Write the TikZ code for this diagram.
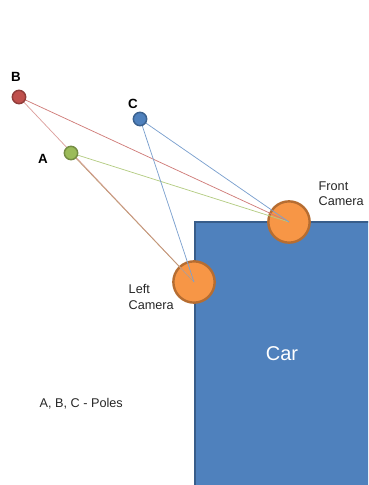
\documentclass[tikz,border=0pt]{standalone}
\usepackage{fontspec}
\setmainfont{Liberation Sans}
\usetikzlibrary{positioning}
\definecolor{carBlue}{HTML}{4F81BD}
\definecolor{carEdge}{HTML}{385D8A}
\definecolor{camOrange}{HTML}{F79646}
\definecolor{camEdge}{HTML}{B66D31}
\definecolor{poleRed}{HTML}{C0504D}
\definecolor{poleGreen}{HTML}{9BBB59}
\definecolor{poleBlue}{HTML}{4F81BD}
\pgfdeclarelayer{top}
\pgfsetlayers{main,top}
\tikzset{
  camera/.style={circle, draw=camEdge, line width=1.8pt, fill=camOrange,
                 minimum size=31pt, inner sep=0pt},
  pole/.style={circle, line width=1.1pt, minimum size=10pt, inner sep=0pt},
  polelbl/.style={font=\bfseries\fontsize{10}{12}\selectfont},
  camlbl/.style={font=\fontsize{9.5}{11.5}\selectfont, align=left, anchor=north west,
                 text=black!85},
  ray/.style={line width=0.55pt},
}

\begin{document}
\begin{tikzpicture}[x=0.75pt,y=-0.75pt]
  \useasboundingbox (0,0) rectangle (368,485);
  \clip (0,0) rectangle (368,485);
  % car body
  \fill[carBlue] (194,221) rectangle (372,490);
  \draw[carEdge,line width=1.5pt] (194.5,490) -- (194.5,221.5) -- (372,221.5);
  \node[font=\fontsize{15}{17}\selectfont,text=white] (car) at (282,354) {Car};
  % cameras
  \node[camera] (front) at (289,222) {};
  \node[camera] (left) at (194,282) {};
  \node[camlbl] (frontlbl) at (314,177) {Front\\Camera};
  \node[camlbl] (leftlbl) at (124,280) {Left\\Camera};
  % poles
  \begin{pgfonlayer}{top}
    \node[pole,draw=poleRed!75!black,fill=poleRed] (B) at (19,97) {};
    \node[pole,draw=poleBlue!75!black,fill=poleBlue] (C) at (140,119) {};
    \node[pole,draw=poleGreen!75!black,fill=poleGreen] (A) at (71,153) {};
  \end{pgfonlayer}
  \node[polelbl] (Blbl) at (16,77) {B};
  \node[polelbl] (Clbl) at (133,104) {C};
  \node[polelbl] (Albl) at (43,159) {A};
  % lines of sight
  \draw[ray,poleRed!75] (B.center) -- (front.center);
  \draw[ray,poleRed!55] (B.center) -- (left.center);
  \draw[ray,poleGreen!75] (A.center) -- (front.center);
  \draw[ray,poleRed!55!poleGreen!80] (A.center) -- (left.center);
  \draw[ray,poleBlue!75] (C.center) -- (front.center);
  \draw[ray,poleBlue!75] (C.center) -- (left.center);
  \node[font=\fontsize{9.5}{11.5}\selectfont,text=black!85,anchor=west] (note) at (35,404) {A, B, C - Poles};
\end{tikzpicture}
\end{document}
